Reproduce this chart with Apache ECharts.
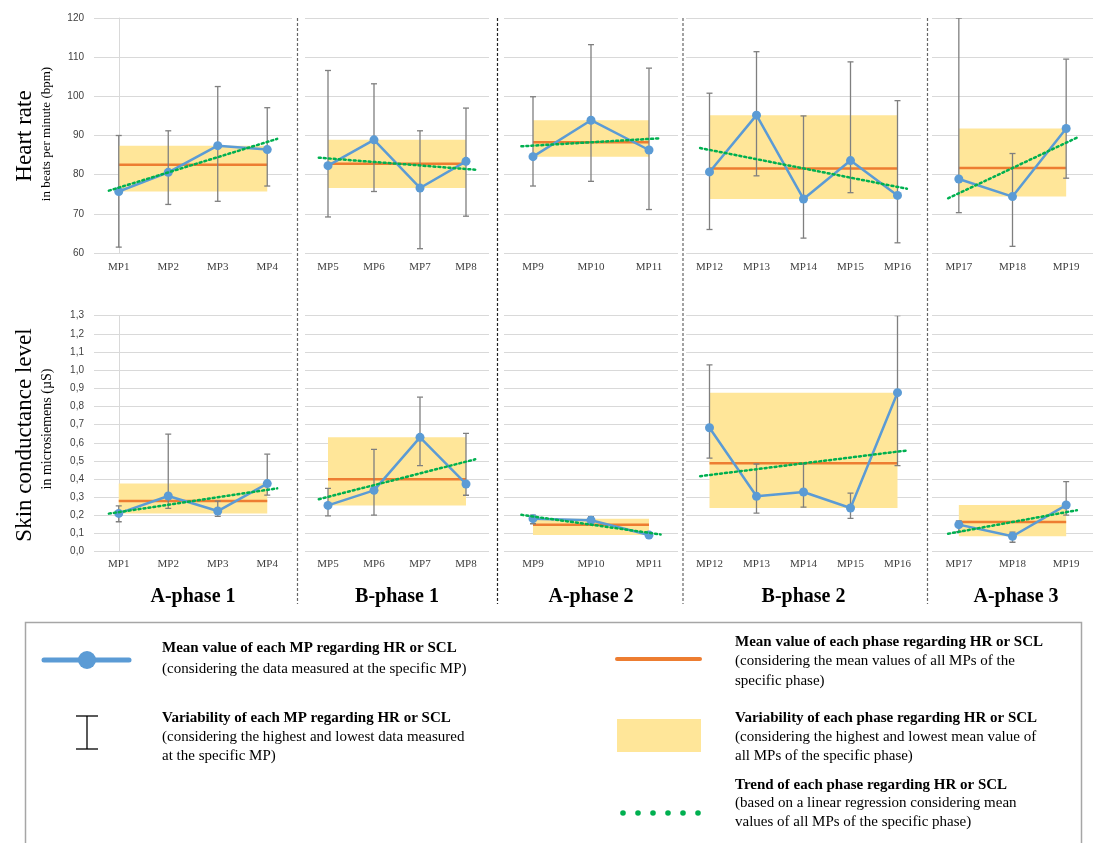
<!DOCTYPE html>
<html>
<head>
<meta charset="utf-8">
<script src="https://cdn.jsdelivr.net/npm/echarts@6/dist/echarts.min.js"></script>
<style>
  html, body { margin: 0; padding: 0; background: #ffffff; }
  #chart { width: 1093px; height: 843px; }
</style>
</head>
<body>
<div id="chart"></div>
<script>
// ---- Data ---------------------------------------------------------------
const phaseNames = ['A-phase 1', 'B-phase 1', 'A-phase 2', 'B-phase 2', 'A-phase 3'];
const phaseCategories = [
  ['MP1', 'MP2', 'MP3', 'MP4'],
  ['MP5', 'MP6', 'MP7', 'MP8'],
  ['MP9', 'MP10', 'MP11'],
  ['MP12', 'MP13', 'MP14', 'MP15', 'MP16'],
  ['MP17', 'MP18', 'MP19']
];

// Heart rate (bpm): mean, highest and lowest value measured at each MP
const hrMean = [75.7, 80.6, 87.4, 86.4, 82.3, 88.9, 76.6, 83.4, 84.6, 93.9, 86.3, 80.7, 95.2, 73.8, 83.6, 74.7, 78.9, 74.4, 91.8];
const hrHigh = [90.0, 91.2, 102.5, 97.1, 106.6, 103.2, 91.2, 97.0, 99.9, 113.2, 107.2, 100.8, 111.4, 95.0, 108.8, 98.9, 120.0, 85.4, 109.5];
const hrLow  = [61.5, 72.4, 73.2, 77.1, 69.2, 75.7, 61.1, 69.4, 77.1, 78.3, 71.1, 66.0, 79.7, 63.8, 75.4, 62.6, 70.3, 61.7, 79.1];

// Skin conductance level (µS): mean, highest and lowest value measured at each MP
const sclMean = [0.211, 0.307, 0.224, 0.375, 0.255, 0.338, 0.630, 0.373, 0.182, 0.173, 0.092, 0.683, 0.305, 0.329, 0.241, 0.876, 0.149, 0.085, 0.257];
const sclHigh = [0.252, 0.648, 0.279, 0.537, 0.349, 0.564, 0.851, 0.652, 0.202, 0.193, 0.100, 1.029, 0.483, 0.483, 0.323, 1.300, 0.170, 0.108, 0.386];
const sclLow  = [0.165, 0.239, 0.195, 0.312, 0.197, 0.202, 0.474, 0.311, 0.154, 0.151, 0.085, 0.516, 0.213, 0.245, 0.184, 0.474, 0.110, 0.052, 0.202];

// Axis ticks
const hrTicks  = [60, 70, 80, 90, 100, 110, 120];
const sclTicks = [0.0, 0.1, 0.2, 0.3, 0.4, 0.5, 0.6, 0.7, 0.8, 0.9, 1.0, 1.1, 1.2, 1.3];

// ---- Layout & style -----------------------------------------------------
const panelLeft  = [94, 305, 504, 686, 932];
const panelWidth = [198, 184, 174, 235, 168];
const rowTop     = [18, 315.7];
const rowHeight  = [235, 236];
const dividerX   = [297.5, 497.5, 683, 927.5];

const C_BLUE = '#5B9BD5', C_ORANGE = '#ED7D31', C_BAND = '#FFE699', C_GREEN = '#00B050';
const C_ERR = '#7f7f7f', C_GRID = '#d9d9d9';
const SERIF = '"Liberation Serif", "Times New Roman", serif';
const SANS = '"Liberation Sans", Arial, sans-serif';

const rows = [
  { mean: hrMean, high: hrHigh, low: hrLow, ticks: hrTicks,
    fmt: v => String(Math.round(v)), labelMargin: 9 },
  { mean: sclMean, high: sclHigh, low: sclLow, ticks: sclTicks,
    fmt: v => v.toFixed(1).replace('.', ','), labelMargin: 7 }
];

// least squares fit of the MP means inside one phase
function linearFit(ys) {
  const n = ys.length;
  const mx = (n - 1) / 2;
  const my = ys.reduce((a, b) => a + b, 0) / n;
  let sxy = 0, sxx = 0;
  ys.forEach((y, i) => { sxy += (i - mx) * (y - my); sxx += (i - mx) * (i - mx); });
  const b = sxy / sxx;
  return x => my + b * (x - mx);
}

const grid = [], xAxis = [], yAxis = [], series = [];
let offset = 0;
const phaseStart = phaseCategories.map(c => { const s = offset; offset += c.length; return s; });

rows.forEach((row, r) => {
  const step = row.ticks[1] - row.ticks[0];
  phaseCategories.forEach((cats, p) => {
    const g = r * 5 + p;
    const n = cats.length;
    const s0 = phaseStart[p];
    const means = row.mean.slice(s0, s0 + n);
    const highs = row.high.slice(s0, s0 + n);
    const lows = row.low.slice(s0, s0 + n);
    const phaseMean = means.reduce((a, b) => a + b, 0) / n;
    const phaseMin = Math.min(...means), phaseMax = Math.max(...means);
    const fit = linearFit(means);

    grid.push({ left: panelLeft[p], width: panelWidth[p], top: rowTop[r], height: rowHeight[r], containLabel: false });
    xAxis.push({
      type: 'category', gridIndex: g, data: cats,
      axisLine: { show: false }, axisTick: { show: false },
      axisLabel: { fontFamily: SERIF, fontSize: 11, color: '#404040', margin: row.labelMargin }
    });
    xAxis.push({ type: 'value', gridIndex: g, min: -0.5, max: n - 0.5, show: false });
    yAxis.push({
      type: 'value', gridIndex: g,
      min: row.ticks[0], max: row.ticks[row.ticks.length - 1], interval: step,
      axisLine: { show: p === 0, lineStyle: { color: C_GRID, width: 1 } },
      axisTick: { show: false },
      axisLabel: { show: p === 0, fontFamily: SANS, fontSize: 10, color: '#404040', margin: 10,
                   formatter: row.fmt },
      splitLine: { show: true, lineStyle: { color: C_GRID, width: 1 } }
    });

    const xv = 2 * g + 1, xc = 2 * g;

    // phase variability band (lowest..highest MP mean)
    series.push({
      type: 'custom', xAxisIndex: xv, yAxisIndex: g, z: 1, silent: true,
      data: [[0, n - 1, phaseMin, phaseMax]],
      renderItem: (params, api) => {
        const a = api.coord([api.value(0), api.value(3)]);
        const b = api.coord([api.value(1), api.value(2)]);
        return { type: 'rect', shape: { x: a[0], y: a[1], width: b[0] - a[0], height: b[1] - a[1] },
                 style: { fill: C_BAND } };
      }
    });
    // phase mean
    series.push({
      type: 'line', xAxisIndex: xv, yAxisIndex: g, z: 2, silent: true,
      data: [[0, phaseMean], [n - 1, phaseMean]], showSymbol: false,
      lineStyle: { color: C_ORANGE, width: 2.5 }
    });
    // per-MP min/max whiskers
    series.push({
      type: 'custom', xAxisIndex: xc, yAxisIndex: g, z: 3, silent: true, clip: true,
      data: cats.map((c, i) => [i, lows[i], highs[i]]),
      renderItem: (params, api) => {
        const lo = api.coord([api.value(0), api.value(1)]);
        const hi = api.coord([api.value(0), api.value(2)]);
        const w = 3;
        const st = { stroke: C_ERR, lineWidth: 1.3 };
        return { type: 'group', children: [
          { type: 'line', shape: { x1: lo[0], y1: lo[1], x2: hi[0], y2: hi[1] }, style: st },
          { type: 'line', shape: { x1: lo[0] - w, y1: lo[1], x2: lo[0] + w, y2: lo[1] }, style: st },
          { type: 'line', shape: { x1: hi[0] - w, y1: hi[1], x2: hi[0] + w, y2: hi[1] }, style: st }
        ] };
      }
    });
    // MP means
    series.push({
      type: 'line', xAxisIndex: xc, yAxisIndex: g, z: 4, silent: true,
      data: means, symbol: 'circle', symbolSize: 9,
      lineStyle: { color: C_BLUE, width: 2.5 }, itemStyle: { color: C_BLUE }
    });
    // linear trend of the phase
    series.push({
      type: 'line', xAxisIndex: xv, yAxisIndex: g, z: 5, silent: true,
      data: [[-0.2, fit(-0.2)], [n - 0.8, fit(n - 0.8)]], showSymbol: false,
      lineStyle: { color: C_GREEN, width: 2.5, type: [2, 3], cap: 'round' }
    });
  });
});

// ---- Annotations --------------------------------------------------------
const graphic = [];
dividerX.forEach((x, i) => {
  graphic.push({ type: 'line', silent: true, z: 10,
    shape: { x1: x, y1: 18, x2: x, y2: 604 },
    style: { stroke: i === 1 ? '#222' : '#666', lineWidth: 1.2, lineDash: [3, 2] } });
});
phaseNames.forEach((name, p) => {
  graphic.push({ type: 'text', silent: true, x: panelLeft[p] + Math.min(panelWidth[p], 1093 - panelLeft[p] + 7) / 2, y: 597,
    style: { text: name, font: 'bold 20px ' + SERIF, fill: '#000', align: 'center', verticalAlign: 'middle' } });
});
function vText(text, x, y, size) {
  graphic.push({ type: 'text', silent: true, x: x, y: y, rotation: Math.PI / 2,
    style: { text: text, font: size + 'px ' + SERIF, fill: '#000', align: 'center', verticalAlign: 'middle' } });
}
vText('Heart rate', 25, 136, 23);
vText('in beats per minute (bpm)', 47, 134, 13);
vText('Skin conductance level', 25, 435, 23);
vText('in microsiemens (µS)', 47, 429, 14);

// legend box
graphic.push({ type: 'rect', silent: true, shape: { x: 25.5, y: 622.5, width: 1056, height: 240 },
  style: { fill: 'none', stroke: '#a6a6a6', lineWidth: 1.5 } });
function legText(lines, x, y0, dy) {
  lines.forEach((t, i) => {
    graphic.push({ type: 'text', silent: true, x: x, y: y0 + i * dy,
      style: { text: t, font: (i === 0 ? 'bold ' : '') + '15px ' + SERIF, fill: '#000', verticalAlign: 'middle' } });
  });
}
// MP mean marker
graphic.push({ type: 'line', silent: true, shape: { x1: 44, y1: 660, x2: 129, y2: 660 },
  style: { stroke: C_BLUE, lineWidth: 5, lineCap: 'round' } });
graphic.push({ type: 'circle', silent: true, shape: { cx: 87, cy: 660, r: 9 }, style: { fill: C_BLUE } });
legText(['Mean value of each MP regarding HR or SCL', '(considering the data measured at the specific MP)'], 162, 648, 21);
// MP whisker marker
[[87, 716, 87, 749], [76, 716, 98, 716], [76, 749, 98, 749]].forEach(s => {
  graphic.push({ type: 'line', silent: true, shape: { x1: s[0], y1: s[1], x2: s[2], y2: s[3] },
    style: { stroke: '#000', lineWidth: 1.3 } });
});
legText(['Variability of each MP regarding HR or SCL', '(considering the highest and lowest data measured', 'at the specific MP)'], 162, 718, 19);
// phase mean marker
graphic.push({ type: 'line', silent: true, shape: { x1: 617, y1: 659, x2: 700, y2: 659 },
  style: { stroke: C_ORANGE, lineWidth: 4, lineCap: 'round' } });
legText(['Mean value of each phase regarding HR or SCL', '(considering the mean values of all MPs of the', 'specific phase)'], 735, 642, 19.5);
// phase band marker
graphic.push({ type: 'rect', silent: true, shape: { x: 617, y: 719, width: 84, height: 33 }, style: { fill: C_BAND } });
legText(['Variability of each phase regarding HR or SCL', '(considering the highest and lowest mean value of', 'all MPs of the specific phase)'], 735, 718, 19);
// trend marker
for (let i = 0; i < 6; i++) {
  graphic.push({ type: 'circle', silent: true, shape: { cx: 623 + i * 15, cy: 813, r: 2.8 }, style: { fill: C_GREEN } });
}
legText(['Trend of each phase regarding HR or SCL', '(based on a linear regression considering mean', 'values of all MPs of the specific phase)'], 735, 785, 18.5);

const chart = echarts.init(document.getElementById('chart'), null, { renderer: 'canvas' });
chart.setOption({
  animation: false,
  backgroundColor: '#ffffff',
  grid: grid, xAxis: xAxis, yAxis: yAxis, series: series,
  graphic: graphic
});
</script>
</body>
</html>
